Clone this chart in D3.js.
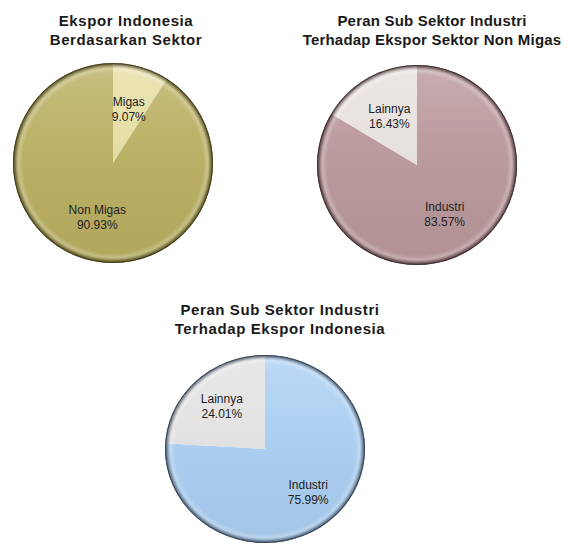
<!DOCTYPE html>
<head>
<meta charset="utf-8">
<title>Ekspor Indonesia</title>
<style>
body, html { margin: 0; padding: 0; background: #fff; }
.pie-title { font-family: "Liberation Sans", Arial, sans-serif; font-weight: bold; font-size: 15px; letter-spacing: 0.6px; fill: #1a1a1a; text-anchor: middle; }
.pie-label { font-family: "Liberation Sans", Arial, sans-serif; font-size: 12px; fill: #222; text-anchor: middle; }
</style>
<script src="https://d3js.org/d3.v7.min.js"></script>
</head>
<body>
<svg id="chart" width="568" height="549"></svg>
<script>
// data
var titles1 = ["Ekspor Indonesia", "Berdasarkan Sektor"];
var labels1 = ["Migas", "Non Migas"];
var values1 = [9.07, 90.93];

var titles2 = ["Peran Sub Sektor Industri", "Terhadap Ekspor Sektor Non Migas"];
var labels2 = ["Industri", "Lainnya"];
var values2 = [83.57, 16.43];

var titles3 = ["Peran Sub Sektor Industri", "Terhadap Ekspor Indonesia"];
var labels3 = ["Industri", "Lainnya"];
var values3 = [75.99, 24.01];

var svg = d3.select("#chart");
var defs = svg.append("defs");

// shine + rim overlay shared by all pies
var shine = defs.append("linearGradient").attr("id", "shine")
  .attr("x1", 0).attr("y1", 0).attr("x2", 0).attr("y2", 1);
shine.append("stop").attr("offset", "0").attr("stop-color", "#fff").attr("stop-opacity", 0.22);
shine.append("stop").attr("offset", "0.35").attr("stop-color", "#fff").attr("stop-opacity", 0.06);
shine.append("stop").attr("offset", "1").attr("stop-color", "#000").attr("stop-opacity", 0.04);

function rimGradient(id, dark) {
  var g = defs.append("radialGradient").attr("id", id)
    .attr("cx", "50%").attr("cy", "50%").attr("r", "50%");
  g.append("stop").attr("offset", "0.90").attr("stop-color", "#fff").attr("stop-opacity", 0);
  g.append("stop").attr("offset", "0.945").attr("stop-color", "#fff").attr("stop-opacity", 0.25);
  g.append("stop").attr("offset", "0.975").attr("stop-color", dark).attr("stop-opacity", 0.4);
  g.append("stop").attr("offset", "1").attr("stop-color", dark).attr("stop-opacity", 0.9);
}

var pie = d3.pie().sort(null).value(function(d) { return d; });

function drawPie(opts) {
  rimGradient(opts.id + "-rim", opts.dark);
  var r = 100;
  var g = svg.append("g")
    .attr("transform", "translate(" + opts.cx + "," + opts.cy + ") scale(1," + opts.sy + ")");

  var color = d3.scaleOrdinal().domain(opts.labels).range(opts.colors);
  var arc = d3.arc().innerRadius(0).outerRadius(r);
  var labelArc = d3.arc().innerRadius(opts.lr * r).outerRadius(opts.lr * r);
  var arcs = pie(opts.values);

  g.selectAll("path.slice").data(arcs).enter().append("path")
    .attr("class", "slice")
    .attr("d", arc)
    .attr("fill", function(d, i) { return color(opts.labels[i]); });

  g.append("circle").attr("r", r).attr("fill", "url(#shine)");
  g.append("circle").attr("r", r).attr("fill", "url(#" + opts.id + "-rim)");
  g.append("circle").attr("r", r - 0.5).attr("fill", "none")
    .attr("stroke", opts.dark).attr("stroke-opacity", 0.75).attr("stroke-width", 1);

  // labels, unscaled text
  arcs.forEach(function(d, i) {
    var c = labelArc.centroid(d);
    var x = opts.cx + c[0], y = opts.cy + c[1] * opts.sy;
    var t = svg.append("text").attr("class", "pie-label")
      .attr("x", x).attr("y", y - 3);
    t.append("tspan").attr("x", x).text(opts.labels[i]);
    t.append("tspan").attr("x", x).attr("dy", 15)
      .text(d3.format(".2f")(opts.values[i]) + "%");
  });

  var tt = svg.append("text").attr("class", "pie-title")
    .attr("x", opts.tx).attr("y", opts.ty)
    .style("letter-spacing", opts.ls + "px");
  opts.titles.forEach(function(s, i) {
    tt.append("tspan").attr("x", opts.tx).attr("dy", i ? 19 : 0).text(s);
  });
}

drawPie({ id: "p1", cx: 113, cy: 163, sy: 1, lr: 0.56, tx: 126, ty: 26, ls: 0.6,
  titles: titles1, labels: labels1, values: values1,
  colors: ["#e5dda2", "#b9ae60"], dark: "#3e3a1c" });

drawPie({ id: "p2", cx: 417, cy: 165, sy: 1, lr: 0.56, tx: 432, ty: 26, ls: 0.2,
  titles: titles2, labels: labels2, values: values2,
  colors: ["#b9979b", "#e7e1dd"], dark: "#3e2c2e" });

drawPie({ id: "p3", cx: 265, cy: 449, sy: 0.94, lr: 0.63, tx: 280, ty: 315, ls: 0.6,
  titles: titles3, labels: labels3, values: values3,
  colors: ["#aacef2", "#e2e2e2"], dark: "#34404f" });
</script>
</body>
</html>
